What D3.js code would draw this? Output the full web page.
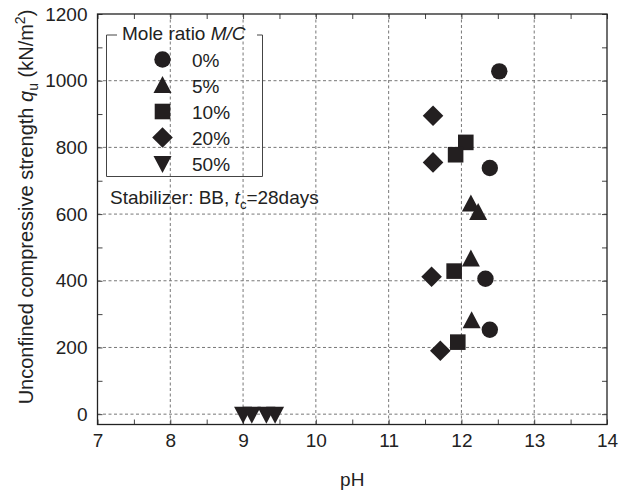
<!DOCTYPE html>
<html>
<head>
<meta charset="utf-8">
<script src="https://cdn.jsdelivr.net/npm/d3@7/dist/d3.min.js"></script>
<style>
  html, body { margin: 0; padding: 0; background: #fff; }
  svg { display: block; font-family: "Liberation Sans", Arial, sans-serif; }
</style>
</head>
<body>
<svg id="chart" width="623" height="494"></svg>
<script>
// Mole ratio M/C series and their (pH, qu) measurements
const seriesNames = ["0%", "5%", "10%", "20%", "50%"];
const seriesSymbols = ["circle", "triangleUp", "square", "diamond", "triangleDown"];
const pH0  = [12.52, 12.39, 12.33, 12.39];
const qu0  = [1028, 738, 406, 253];
const pH5  = [12.13, 12.23, 12.13, 12.14];
const qu5  = [630, 605, 465, 280];
const pH10 = [12.06, 11.92, 11.90, 11.95];
const qu10 = [815, 778, 429, 216];
const pH20 = [11.61, 11.61, 11.59, 11.71];
const qu20 = [895, 755, 412, 190];
const pH50 = [9.00, 9.12, 9.32, 9.44];
const qu50 = [0, 0, 0, 0];
const xTicks = [7, 8, 9, 10, 11, 12, 13, 14];
const yTicks = [0, 200, 400, 600, 800, 1000, 1200];

const seriesX = [pH0, pH5, pH10, pH20, pH50];
const seriesY = [qu0, qu5, qu10, qu20, qu50];

const ink = "#231f20";
const fs = "19px";
const fsSub = "13px";
const svg = d3.select("#chart");
const L = 97.5, R = 607, T = 14, B = 424.5;

const x = d3.scaleLinear().domain([7, 14]).range([L, R]);
const y = d3.scaleLinear().domain([-31, 1200]).range([B, T]);

// dotted grid at major ticks
const grid = svg.append("g").attr("stroke", "#777").attr("stroke-width", 1)
  .attr("stroke-dasharray", "3,2.5");
xTicks.filter(v => v > 7 && v < 14).forEach(v => {
  grid.append("line").attr("x1", x(v)).attr("x2", x(v)).attr("y1", T).attr("y2", B);
});
yTicks.filter(v => v < 1200).forEach(v => {
  grid.append("line").attr("x1", L).attr("x2", R).attr("y1", y(v)).attr("y2", y(v));
});

// axes with inward ticks, mirrored on top and right
const minorX = d3.range(7, 14.01, 0.5);
const minorY = d3.range(0, 1200.1, 100);
const tickLen = 5;
const axisStyle = g => {
  g.select(".domain").remove();
  g.selectAll(".tick line").attr("stroke", "#444");
  g.selectAll(".tick text").attr("fill", "#222").style("font-size", fs)
    .style("font-family", "'Liberation Sans', Arial, sans-serif");
};
svg.append("g").attr("transform", `translate(0,${B})`)
  .call(d3.axisBottom(x).tickValues(minorX).tickSize(-tickLen).tickFormat(""))
  .call(axisStyle);
svg.append("g").attr("transform", `translate(0,${B})`)
  .call(d3.axisBottom(x).tickValues(xTicks).tickSize(0).tickPadding(9).tickFormat(d3.format("d")))
  .call(axisStyle);
svg.append("g").attr("transform", `translate(0,${T})`)
  .call(d3.axisTop(x).tickValues(minorX).tickSize(-tickLen).tickFormat(""))
  .call(axisStyle);
svg.append("g").attr("transform", `translate(${L},0)`)
  .call(d3.axisLeft(y).tickValues(minorY).tickSize(-tickLen).tickFormat(""))
  .call(axisStyle);
svg.append("g").attr("transform", `translate(${L},0)`)
  .call(d3.axisLeft(y).tickValues(yTicks).tickSize(0).tickPadding(10).tickFormat(d3.format("d")))
  .call(axisStyle);
svg.append("g").attr("transform", `translate(${R},0)`)
  .call(d3.axisRight(y).tickValues(minorY).tickSize(-tickLen).tickFormat(""))
  .call(axisStyle);

svg.append("rect").attr("x", L).attr("y", T).attr("width", R - L).attr("height", B - T)
  .attr("fill", "none").attr("stroke", "#222").attr("stroke-width", 1.3);

// marker shapes
function symbolPath(kind) {
  switch (kind) {
    case "circle": return d3.symbol(d3.symbolCircle, Math.PI * 8.2 * 8.2)();
    case "square": return d3.symbol(d3.symbolSquare, 15.6 * 15.6)();
    case "diamond": return "M0,-10.3L10.3,0L0,10.3L-10.3,0Z";
    case "triangleUp": return "M0,-9.5L9,7.5L-9,7.5Z";
    case "triangleDown": return "M0,9.5L9,-7.5L-9,-7.5Z";
  }
}

seriesNames.forEach((name, i) => {
  const pts = seriesX[i].map((v, j) => [v, seriesY[i][j]]);
  svg.append("g").selectAll("path").data(pts).join("path")
    .attr("d", symbolPath(seriesSymbols[i]))
    .attr("transform", d => `translate(${x(d[0])},${y(d[1])})`)
    .attr("fill", ink);
});

// legend
const lg = svg.append("g");
const lx0 = 106.5, ly0 = 35, lx1 = 262.5, ly1 = 176.5;
lg.append("path")
  .attr("d", `M${117},${ly0}H${lx0}V${ly1}H${lx1}V${ly0}H${257}`)
  .attr("fill", "none").attr("stroke", "#444").attr("stroke-width", 1);
const title = lg.append("text").attr("x", 122).attr("y", 40).style("font-size", fs).attr("fill", "#222");
title.append("tspan").text("Mole ratio ");
title.append("tspan").attr("font-style", "italic").text("M/C");
seriesNames.forEach((name, i) => {
  const cy = 59.5 + i * 26;
  lg.append("path").attr("d", symbolPath(seriesSymbols[i]))
    .attr("transform", `translate(162.5,${cy})`).attr("fill", ink);
  lg.append("text").attr("x", 192).attr("y", cy + 7)
    .style("font-size", fs).attr("fill", "#222").text(name);
});

// annotation
const ann = svg.append("text").attr("x", 110).attr("y", 204).style("font-size", fs).attr("fill", "#222");
ann.append("tspan").text("Stabilizer: BB, ");
ann.append("tspan").attr("font-style", "italic").text("t");
ann.append("tspan").attr("dy", 5).style("font-size", fsSub).text("c");
ann.append("tspan").attr("dy", -5).text("=28days");

// axis titles
svg.append("text").attr("x", x(10.5)).attr("y", 486).attr("text-anchor", "middle")
  .style("font-size", fs).attr("fill", "#222").text("pH");

const yt = svg.append("text").attr("transform", `translate(33,207) rotate(-90)`)
  .attr("text-anchor", "middle").style("font-size", "20px").attr("fill", "#222");
yt.append("tspan").text("Unconfined compressive strength ");
yt.append("tspan").attr("font-style", "italic").text("q");
yt.append("tspan").attr("dy", 5).style("font-size", "14px").text("u");
yt.append("tspan").attr("dy", -5).text(" (kN/m");
yt.append("tspan").attr("dy", -8).style("font-size", "14px").text("2");
yt.append("tspan").attr("dy", 8).text(")");
</script>
</body>
</html>
